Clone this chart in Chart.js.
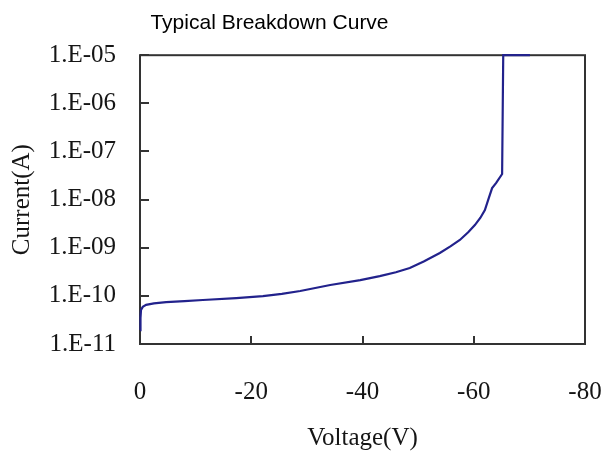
<!DOCTYPE html>
<html>
<head>
<meta charset="utf-8">
<title>Typical Breakdown Curve</title>
<script src="https://cdn.jsdelivr.net/npm/chart.js@4/dist/chart.umd.min.js"></script>
<style>
    body { margin: 0; background: #fff; }
    #wrap { width: 605px; height: 456px; }
</style>
</head>
<body>
<div id="wrap"><canvas id="chart" width="605" height="456"></canvas></div>
<script>
"use strict";

// werte
const voltage = [0, -0.09, -0.18, -0.5, -1.1, -2.5, -4.7, -8, -11.3, -17.3, -22.1, -25.5, -28.8,
    -34.2, -39.6, -43.1, -46, -48.5, -51, -53.9, -55.8, -57.5, -59, -60.2, -61.2, -62.0, -62.7,
    -63.3, -64.0, -65.1, -65.3, -70.1];
const current = [1.95e-11, 3.5e-11, 5.1e-11, 5.9e-11, 6.5e-11, 7.0e-11, 7.4e-11, 7.8e-11, 8.2e-11,
    9.0e-11, 9.9e-11, 1.1e-10, 1.26e-10, 1.68e-10, 2.13e-10, 2.58e-10, 3.1e-10, 3.8e-10, 5.2e-10,
    7.8e-10, 1.07e-9, 1.45e-9, 2.1e-9, 2.95e-9, 4.2e-9, 6.05e-9, 1.07e-8, 1.73e-8, 2.2e-8, 3.4e-8,
    1e-5, 1e-5];

const yTickValues = [1e-11, 1e-10, 1e-9, 1e-8, 1e-7, 1e-6, 1e-5];
const yTickLabels = ['1.E-11', '1.E-10', '1.E-09', '1.E-08', '1.E-07', '1.E-06', '1.E-05'];
const xTickValues = [-80, -60, -40, -20, 0];
const xTickLabels = ['-80', '-60', '-40', '-20', '0'];

const points = voltage.map((v, i) => ({x: v, y: current[i]}));

const serif = "'Liberation Serif', 'Times New Roman', serif";
const textColor = '#151515';

// rahmen und nach innen zeigende ticks, unter der kurve
const frameTicks = {
    id: 'frameTicks',
    afterLayout(chart) {
        // titel etwas nach links schieben
        chart.titleBlock.left = 0;
        chart.titleBlock.right = 539;
    },
    beforeDatasetsDraw(chart) {
        const {ctx, chartArea: a, scales} = chart;
        ctx.save();
        ctx.strokeStyle = '#333';
        ctx.lineWidth = 2;
        ctx.beginPath();
        scales.y.ticks.forEach(t => {
            const py = Math.round(scales.y.getPixelForValue(t.value));
            ctx.moveTo(a.left, py);
            ctx.lineTo(a.left + 9, py);
        });
        scales.x.ticks.forEach(t => {
            const px = Math.round(scales.x.getPixelForValue(t.value));
            ctx.moveTo(px, a.bottom);
            ctx.lineTo(px, a.bottom - 8);
        });
        ctx.stroke();
        ctx.strokeRect(a.left, a.top, a.right - a.left, a.bottom - a.top);
        ctx.restore();
    }
};

new Chart(document.getElementById('chart'), {
    type: 'scatter',
    data: {
        datasets: [{
            label: 'Current',
            data: points,
            showLine: true,
            borderColor: '#22228c',
            borderWidth: 2.2,
            pointRadius: 0,
            tension: 0,
            clip: 4
        }]
    },
    options: {
        responsive: false,
        animation: false,
        layout: {padding: {left: 0, right: 20, top: 0, bottom: 0}},
        plugins: {
            legend: {display: false},
            tooltip: {enabled: false},
            title: {
                display: true,
                text: 'Typical Breakdown Curve',
                color: '#000',
                font: {family: "'Liberation Sans', Arial, sans-serif", size: 21, weight: 'normal'},
                padding: {top: 11, bottom: 19}
            }
        },
        scales: {
            x: {
                type: 'linear',
                reverse: true,
                min: -80,
                max: 0,
                afterBuildTicks: scale => {
                    scale.ticks = xTickValues.map(v => ({value: v}));
                },
                afterFit: scale => { scale.height = 112; },
                grid: {display: false, drawTicks: false},
                border: {display: false},
                ticks: {
                    color: textColor,
                    padding: 33,
                    maxRotation: 0,
                    font: {family: serif, size: 25},
                    callback: v => xTickLabels[xTickValues.indexOf(v)]
                },
                title: {
                    display: true,
                    text: 'Voltage(V)',
                    color: textColor,
                    font: {family: serif, size: 25},
                    padding: {top: 0, bottom: 3}
                }
            },
            y: {
                type: 'logarithmic',
                min: 1e-11,
                max: 1e-5,
                afterBuildTicks: scale => {
                    scale.ticks = yTickValues.map(v => ({value: v}));
                },
                afterFit: scale => { scale.width = 140; },
                grid: {display: false, drawTicks: false},
                border: {display: false},
                ticks: {
                    color: textColor,
                    padding: 24,
                    font: {family: serif, size: 25},
                    callback: v => yTickLabels[yTickValues.indexOf(v)]
                },
                title: {
                    display: true,
                    text: 'Current(A)',
                    color: textColor,
                    font: {family: serif, size: 25},
                    padding: {top: 7, bottom: 0}
                }
            }
        }
    },
    plugins: [frameTicks]
});
</script>
</body>
</html>
